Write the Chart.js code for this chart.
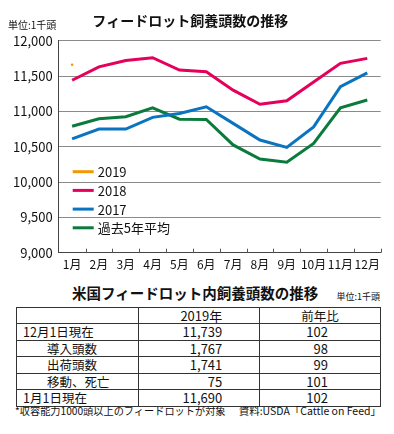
<!DOCTYPE html>
<html lang="ja">
<head>
<meta charset="utf-8">
<script src="https://cdn.jsdelivr.net/npm/chart.js@4.4.1/dist/chart.umd.min.js"></script>
<style>
  html, body { margin: 0; padding: 0; background: #fff; }
  body { width: 394px; height: 434px; position: relative; overflow: hidden;
         font-family: "Noto Sans CJK JP", "Noto Sans", sans-serif; color: #111; }
  #wrap { position: absolute; left: 0; top: 0; width: 394px; height: 276px; }
  .unit1 { position: absolute; left: 8px; top: 19px; font-size: 10px; line-height: 12px; }
  .ttl2 { position: absolute; left: 72px; top: 284px; font-size: 14.5px; font-weight: bold; line-height: 18px; white-space: nowrap; }
  .unit2 { position: absolute; right: 14px; top: 291px; font-size: 9px; line-height: 12px; }
  table { position: absolute; left: 16px; top: 306.5px; width: 364px; border-collapse: collapse; table-layout: fixed; }
  td { border: 1px solid #333; padding: 0; height: 15.6px; font-size: 12.5px; line-height: 15.6px; white-space: nowrap; }
  td.c1 { text-align: left; padding-left: 6px; }
  td.c1i { text-align: left; padding-left: 30px; }
  td.c2 { text-align: right; padding-right: 37px; font-size: 13px; }
  td.c3 { text-align: right; padding-right: 52px; font-size: 13px; }
  td.h3 { text-align: center; }
  .note { position: absolute; left: 15px; top: 404px; font-size: 10.2px; line-height: 13px; white-space: nowrap; }
  .src { position: absolute; right: 13px; top: 404px; font-size: 10.5px; line-height: 13px; white-space: nowrap; }
</style>
</head>
<body>
<div id="wrap"><canvas id="c" width="394" height="276"></canvas></div>
<div class="unit1">単位:1千頭</div>
<div class="ttl2">米国フィードロット内飼養頭数の推移</div>
<div class="unit2">単位:1千頭</div>
<table id="tbl"></table>
<div class="note">*収容能力1000頭以上のフィードロットが対象</div>
<div class="src">資料:USDA「Cattle on Feed」</div>
<script>
// ---- data ----
const months = ['1月','2月','3月','4月','5月','6月','7月','8月','9月','10月','11月','12月'];
const s2019 = [11660, null, null, null, null, null, null, null, null, null, null, null];
const s2018 = [11440, 11630, 11720, 11760, 11585, 11560, 11300, 11100, 11150, 11415, 11680, 11750];
const s2017 = [10610, 10750, 10750, 10915, 10970, 11065, 10830, 10595, 10490, 10780, 11350, 11545];
const sAvg  = [10790, 10895, 10925, 11050, 10890, 10885, 10525, 10325, 10280, 10545, 11050, 11160];
const seriesNames = ['2019', '2018', '2017', '過去5年平均'];
const yTicks = [9000, 9500, 10000, 10500, 11000, 11500, 12000];

const tableHeader = ['', '2019年', '前年比'];
const tableRows = ['12月1日現在', '導入頭数', '出荷頭数', '移動、死亡', '1月1日現在'];
const table2019 = ['11,739', '1,767', '1,741', '75', '11,690'];
const tableRatio = ['102', '98', '99', '101', '102'];

// ---- table ----
(function(){
  const t = document.getElementById('tbl');
  let h = '<colgroup><col style="width:121.7px"><col style="width:121.6px"><col style="width:120.7px"></colgroup>';
  h += '<tr><td class="c1"></td><td class="c2">' + tableHeader[1] + '</td><td class="h3">' + tableHeader[2] + '</td></tr>';
  tableRows.forEach((r, i) => {
    const cls = (i === 0 || i === tableRows.length - 1) ? 'c1' : 'c1i';
    h += '<tr><td class="' + cls + '">' + r + '</td><td class="c2">' + table2019[i] + '</td><td class="c3">' + tableRatio[i] + '</td></tr>';
  });
  t.innerHTML = h;
})();

// ---- chart ----
const colors = ['#F39800', '#E4005B', '#0A74C0', '#0B7A3D'];
const FONT = '"Noto Sans CJK JP", "Noto Sans", sans-serif';

const legendPlugin = {
  id: 'inLegend',
  afterDatasetsDraw(chart) {
    const ctx = chart.ctx, ca = chart.chartArea;
    ctx.save();
    chart.data.datasets.forEach((ds, i) => {
      const y = 171.7 + i * 18.7;
      const x0 = ca.left + 14;
      ctx.strokeStyle = ds.borderColor;
      ctx.lineWidth = 3;
      ctx.beginPath(); ctx.moveTo(x0, y); ctx.lineTo(x0 + 21, y); ctx.stroke();
      ctx.fillStyle = '#111';
      ctx.font = '13px ' + FONT;
      ctx.textBaseline = 'middle';
      ctx.textAlign = 'left';
      ctx.fillText(ds.label, x0 + 25, y + 0.5);
    });
    ctx.restore();
  }
};
const innerTicks = {
  id: 'innerTicks',
  afterDraw(chart) {
    const ctx = chart.ctx, ca = chart.chartArea;
    const n = chart.data.labels.length;
    const w = (ca.right - ca.left) / n;
    ctx.save();
    ctx.strokeStyle = '#555';
    ctx.lineWidth = 1;
    for (let k = 1; k <= n; k++) {
      const x = Math.round(ca.left + w * k) + 0.5;
      ctx.beginPath(); ctx.moveTo(x, ca.bottom); ctx.lineTo(x, ca.bottom - 4); ctx.stroke();
    }
    ctx.restore();
  }
};

const dsArr = [s2019, s2018, s2017, sAvg].map((d, i) => ({
  label: seriesNames[i],
  data: d,
  borderColor: colors[i],
  backgroundColor: colors[i],
  borderWidth: 3,
  pointRadius: i === 0 ? 1.3 : 0,
  pointBorderWidth: 0,
  pointHoverRadius: 0,
  tension: 0,
  fill: false,
  spanGaps: false
}));

new Chart(document.getElementById('c'), {
  type: 'line',
  data: { labels: months, datasets: dsArr },
  options: {
    responsive: false,
    animation: false,
    devicePixelRatio: 1,
    layout: { padding: { left: 0, right: 13.3, top: 0, bottom: 0 } },
    plugins: {
      legend: { display: false },
      tooltip: { enabled: false },
      title: {
        display: true,
        text: 'フィードロット飼養頭数の推移',
        color: '#111',
        font: { family: FONT, size: 14, weight: 'bold' },
        padding: { top: 12, bottom: 11.9 }
      }
    },
    scales: {
      x: {
        offset: true,
        grid: { display: true, drawOnChartArea: false, drawTicks: false },
        border: { display: true, color: '#444', width: 1 },
        ticks: { color: '#111', padding: 5, maxRotation: 0, autoSkip: false,
                 font: { family: FONT, size: 12 } },
        afterFit(s) { s.height = 23.3; }
      },
      y: {
        min: 9000, max: 12000,
        afterBuildTicks(s) { s.ticks = yTicks.map(v => ({ value: v })); },
        grid: { color: '#8a8a8a', lineWidth: 1, drawTicks: false },
        border: { display: true, color: '#444', width: 1 },
        ticks: { color: '#111', padding: 6,
                 font: { family: FONT, size: 13 },
                 callback: v => Number(v).toLocaleString('en-US') },
        afterFit(s) { s.width = 58.7; }
      }
    }
  },
  plugins: [legendPlugin, innerTicks]
});
</script>
</body>
</html>
